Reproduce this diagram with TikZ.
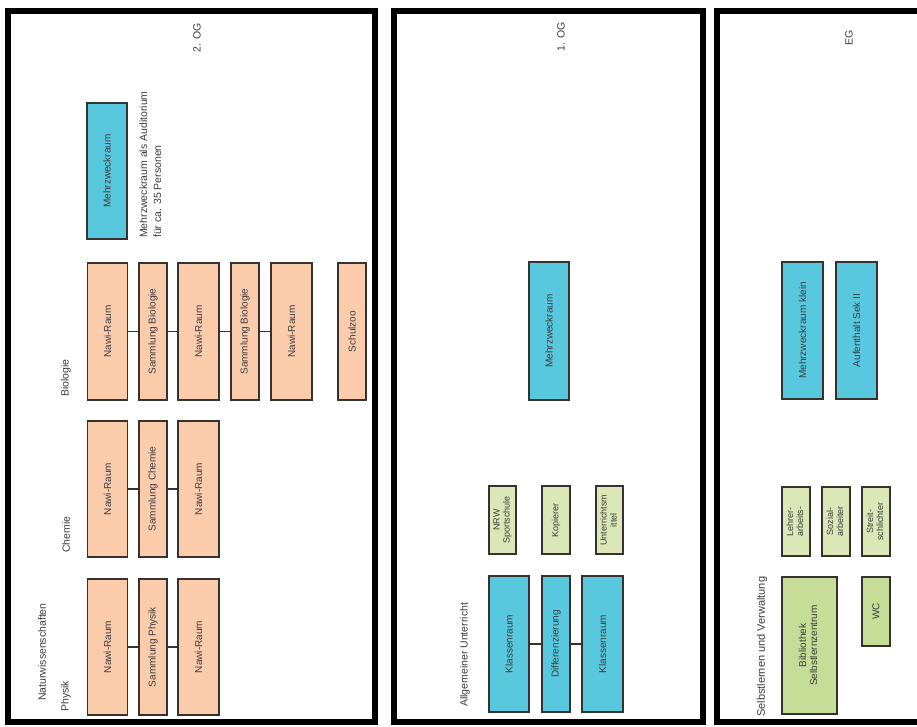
\documentclass[tikz,border=0pt]{standalone}
\usepackage{fontspec}
\setmainfont{Liberation Sans}
\usepackage{graphicx}
\definecolor{peachc}{RGB}{250,204,172}
\definecolor{bluec}{RGB}{88,200,222}
\definecolor{greenlight}{RGB}{220,231,184}
\definecolor{greenmid}{RGB}{198,221,152}
\definecolor{boxline}{RGB}{55,50,48}
\definecolor{txt}{RGB}{60,60,60}
\begin{document}
\begin{tikzpicture}[x=1pt,y=-1pt,
  room/.style={draw=boxline, line width=1.8pt, inner sep=0pt, text=txt,
    font=\fontsize{10}{11}\selectfont},
  peachroom/.style={room, fill=peachc},
  blueroom/.style={room, fill=bluec},
  smallroom/.style={room, fill=greenlight, font=\fontsize{9}{10}\selectfont},
  greenroom/.style={room, fill=greenmid},
  lab/.style={inner sep=0pt, text=txt, font=\fontsize{10.5}{12.5}\selectfont},
  panel/.style={draw=black, line width=6pt},
  link/.style={draw=boxline, line width=1.6pt}
]
\useasboundingbox (0,0) rectangle (917,726);
\begin{scope}
\clip (0,0) rectangle (917,726);
% panels
\draw[panel] (8,11) rectangle (375,722);
\draw[panel] (394,11) rectangle (703,722);
\draw[panel] (717,11) rectangle (940,722);

% ---------- Panel 1: 2. OG ----------
\node[lab] (t1) at (197,38) {\rotatebox{90}{2. OG}};
\node[lab, anchor=south] (nw) at (42,701) {\rotatebox{90}{Naturwissenschaften}};
\node[lab, anchor=south] (lph) at (66,712) {\rotatebox{90}{Physik}};
\node[lab, anchor=south] (lch) at (66,553) {\rotatebox{90}{Chemie}};
\node[lab, anchor=south] (lbi) at (66,397) {\rotatebox{90}{Biologie}};

\node[blueroom, minimum width=40pt, minimum height=136pt] (mz1) at (107,171) {\rotatebox{90}{Mehrzweckraum}};
\node[lab, anchor=south west, font=\fontsize{10.5}{14}\selectfont] (note) at (137,238)
  {\rotatebox{90}{\begin{tabular}{@{}l@{}}Mehrzweckraum als Auditorium\\für ca. 35 Personen\end{tabular}}};

% Biologie row
\node[peachroom, minimum width=40pt, minimum height=137pt] (b1) at (107.5,331.5) {\rotatebox{90}{Nawi-Raum}};
\node[peachroom, minimum width=28pt, minimum height=137pt] (b2) at (153,331.5) {\rotatebox{90}{Sammlung Biologie}};
\node[peachroom, minimum width=41pt, minimum height=137pt] (b3) at (198.5,331.5) {\rotatebox{90}{Nawi-Raum}};
\node[peachroom, minimum width=28pt, minimum height=137pt] (b4) at (245,331.5) {\rotatebox{90}{Sammlung Biologie}};
\node[peachroom, minimum width=41pt, minimum height=137pt] (b5) at (291.5,331.5) {\rotatebox{90}{Nawi-Raum}};
\node[peachroom, minimum width=28pt, minimum height=137pt] (b6) at (352,331.5) {\rotatebox{90}{Schulzoo}};
\draw[link] (b1.east) -- (b2.west);
\draw[link] (b2.east) -- (b3.west);
\draw[link] (b3.east) -- (b4.west);
\draw[link] (b4.east) -- (b5.west);

% Chemie row
\node[peachroom, minimum width=40pt, minimum height=136pt] (c1) at (107.5,489) {\rotatebox{90}{Nawi-Raum}};
\node[peachroom, minimum width=28pt, minimum height=136pt] (c2) at (153,489) {\rotatebox{90}{Sammlung Chemie}};
\node[peachroom, minimum width=41pt, minimum height=136pt] (c3) at (198.5,489) {\rotatebox{90}{Nawi-Raum}};
\draw[link] (c1.east) -- (c2.west);
\draw[link] (c2.east) -- (c3.west);

% Physik row
\node[peachroom, minimum width=40pt, minimum height=136pt] (p1) at (107.5,647) {\rotatebox{90}{Nawi-Raum}};
\node[peachroom, minimum width=28pt, minimum height=136pt] (p2) at (153,647) {\rotatebox{90}{Sammlung Physik}};
\node[peachroom, minimum width=41pt, minimum height=136pt] (p3) at (198.5,647) {\rotatebox{90}{Nawi-Raum}};
\draw[link] (p1.east) -- (p2.west);
\draw[link] (p2.east) -- (p3.west);

% ---------- Panel 2: 1. OG ----------
\node[lab] (t2) at (561,37) {\rotatebox{90}{1. OG}};
\node[lab, anchor=south] (lau) at (465,707) {\rotatebox{90}{Allgemeiner Unterricht}};
\node[blueroom, minimum width=40pt, minimum height=138pt] (m2) at (549,331) {\rotatebox{90}{Mehrzweckraum}};
\node[smallroom, minimum width=27pt, minimum height=68pt] (s1) at (502.5,520) {\rotatebox{90}{\begin{tabular}{@{}c@{}}NRW\\Sportschule\end{tabular}}};
\node[smallroom, minimum width=28pt, minimum height=68pt] (s2) at (556,520) {\rotatebox{90}{Kopierer}};
\node[smallroom, minimum width=27pt, minimum height=68pt] (s3) at (609.5,520) {\rotatebox{90}{\begin{tabular}{@{}c@{}}Unterrichtsm\\ittel\end{tabular}}};
\node[blueroom, minimum width=40pt, minimum height=136pt] (k1) at (509,644) {\rotatebox{90}{Klassenraum}};
\node[blueroom, minimum width=28pt, minimum height=136pt] (k2) at (556,644) {\rotatebox{90}{Differenzierung}};
\node[blueroom, minimum width=41pt, minimum height=136pt] (k3) at (602.5,644) {\rotatebox{90}{Klassenraum}};
\draw[link] (k1.east) -- (k2.west);
\draw[link] (k2.east) -- (k3.west);

% ---------- Panel 3: EG ----------
\node[lab] (t3) at (849,38) {\rotatebox{90}{EG}};
\node[lab, anchor=south, font=\fontsize{11}{13}\selectfont] (lsv) at (762,717) {\rotatebox{90}{Selbstlernen und Verwaltung}};
\node[blueroom, minimum width=41pt, minimum height=137pt] (m3a) at (802.5,330.5) {\rotatebox{90}{Mehrzweckraum klein}};
\node[blueroom, minimum width=41pt, minimum height=137pt] (m3b) at (856.5,330.5) {\rotatebox{90}{Aufenthalt Sek II}};
\node[smallroom, minimum width=28pt, minimum height=69pt] (l1) at (796,521.5) {\rotatebox{90}{\begin{tabular}{@{}c@{}}Lehrer-\\arbeits-\end{tabular}}};
\node[smallroom, minimum width=28pt, minimum height=69pt] (l2) at (836,521.5) {\rotatebox{90}{\begin{tabular}{@{}c@{}}Sozial-\\arbeiter\end{tabular}}};
\node[smallroom, minimum width=28pt, minimum height=69pt] (l3) at (876,521.5) {\rotatebox{90}{\begin{tabular}{@{}c@{}}Streit-\\schlichter\end{tabular}}};
\node[greenroom, minimum width=55pt, minimum height=137pt] (bib) at (809.5,645.5) {\rotatebox{90}{\begin{tabular}{@{}c@{}}Bibliothek\\Selbstlernzentrum\end{tabular}}};
\node[greenroom, minimum width=28pt, minimum height=69pt] (wc) at (876,611.5) {\rotatebox{90}{WC}};
\end{scope}
\end{tikzpicture}
\end{document}
